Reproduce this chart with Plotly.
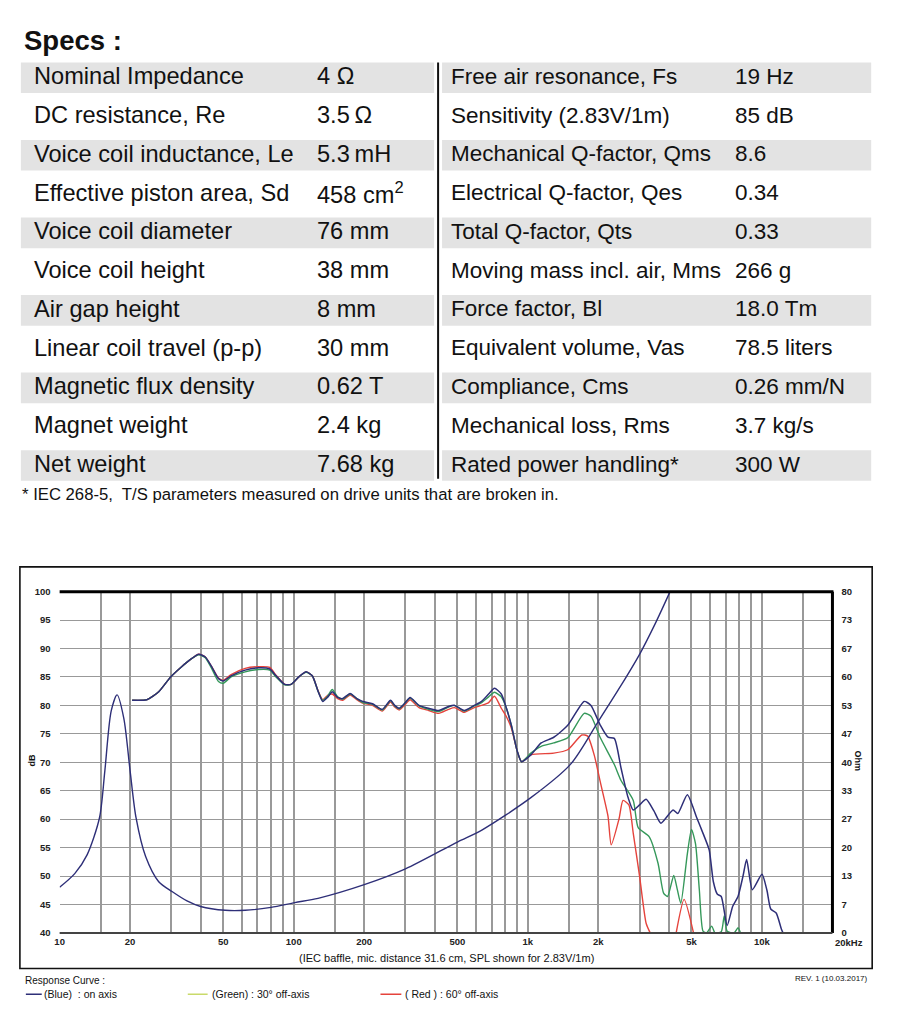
import math
import plotly.graph_objects as go

W, H = 900, 1022
def px(x): return x / W
def py(y): return 1 - y / H

# ---------------- Spec table data ----------------
left_labels = ["Nominal Impedance", "DC resistance, Re", "Voice coil inductance, Le",
               "Effective piston area, Sd", "Voice coil diameter", "Voice coil height",
               "Air gap height", "Linear coil travel (p-p)", "Magnetic flux density",
               "Magnet weight", "Net weight"]
left_values = ["4 Ω", "3.5\u2009Ω", "5.3\u2009mH", "458 cm<sup>2</sup>", "76 mm", "38 mm",
               "8 mm", "30 mm", "0.62 T", "2.4 kg", "7.68 kg"]
right_labels = ["Free air resonance, Fs", "Sensitivity (2.83V/1m)", "Mechanical Q-factor, Qms",
                "Electrical Q-factor, Qes", "Total Q-factor, Qts", "Moving mass incl. air, Mms",
                "Force factor, Bl", "Equivalent volume, Vas", "Compliance, Cms",
                "Mechanical loss, Rms", "Rated power handling*"]
right_values = ["19 Hz", "85 dB", "8.6", "0.34", "0.33", "266 g", "18.0 Tm", "78.5 liters",
                "0.26 mm/N", "3.7 kg/s", "300 W"]

# ---------------- Response curve data ----------------
freq_blue = [20.4, 23.6, 26.5, 29.8, 33.2, 36, 39.3, 41.9, 44.6, 47.7, 50, 54, 62, 70.5, 79, 84,
             91.5, 97.5, 105, 113, 120, 127, 133, 140, 146, 154, 162, 174, 186, 197, 217, 239,
             259, 270, 282, 300, 314, 343, 377, 416, 458, 486, 535, 590, 634, 680, 720, 770,
             810, 850, 900, 940, 1030, 1140, 1290, 1480, 1740, 1860, 2040, 2200, 2340, 2500,
             2680, 2820, 3000, 3200, 3450, 3700, 4170, 4370, 4800, 5260, 5600, 5950, 6200,
             6450, 6700, 7100, 7500, 7900, 8300, 8600, 9100, 10000, 10500, 10900, 11500,
             12100, 12300]
spl_blue = [80.9, 81.0, 82.4, 85.0, 86.8, 88.0, 89.0, 88.5, 86.8, 84.7, 84.3, 85.2, 86.2, 86.6,
            86.4, 85.2, 83.7, 83.7, 85.0, 85.9, 85.2, 82.5, 80.7, 81.5, 82.4, 81.4, 81.2, 82.1,
            81.2, 80.7, 80.3, 79.3, 80.9, 80.0, 79.5, 80.5, 81.4, 80.0, 79.5, 79.1, 79.8, 80.0,
            79.1, 80.0, 80.7, 82.0, 83.0, 82.0, 79.5, 76.5, 72.0, 70.1, 71.3, 73.4, 74.4, 76.5,
            80.7, 80.0, 76.5, 74.4, 74.2, 69.0, 63.8, 61.6, 62.5, 63.5, 61.5, 59.3, 61.6, 61.0,
            64.3, 60.3, 57.5, 54.6, 49.0, 46.8, 46.4, 41.3, 44.7, 46.4, 50.0, 52.9, 47.6, 50.3,
            47.5, 44.2, 43.5, 40.7, 40.0]

freq_green = [20.4, 23.6, 26.5, 29.8, 33.2, 36, 39.3, 41.9, 44.6, 47.7, 50, 54, 62, 70.5, 79, 84,
              91.5, 97.5, 105, 113, 120, 127, 133, 140, 146, 154, 162, 174, 186, 197, 217, 239,
              259, 270, 282, 300, 314, 343, 377, 416, 458, 486, 535, 590, 634, 680, 720, 770,
              810, 850, 900, 940, 1030, 1140, 1290, 1480, 1740, 1860, 2040, 2340, 2500, 2820,
              2960, 3300, 3600, 3800, 3950, 4200, 4350, 4500, 4800, 5000, 5200, 5400, 5600,
              5800, 6100, 6300, 6700, 6900, 7100, 7600, 7900, 8100]
spl_green = [80.9, 81.0, 82.4, 85.0, 86.8, 88.0, 88.9, 88.4, 86.5, 84.2, 83.9, 85.0, 85.9, 86.3,
             86.2, 85.0, 83.6, 83.7, 85.0, 85.8, 85.2, 82.5, 80.9, 81.7, 82.8, 81.5, 81.1, 82.0,
             81.2, 80.5, 80.2, 79.2, 80.8, 79.9, 79.4, 80.5, 81.3, 79.9, 79.3, 78.9, 79.7, 80.0,
             79.0, 79.9, 80.5, 81.5, 82.3, 81.5, 79.5, 76.5, 72.0, 70.1, 71.6, 72.8, 73.4, 74.3,
             78.6, 78.1, 74.3, 69.6, 66.8, 63.3, 58.5, 56.9, 52.2, 47.0, 46.4, 50.1, 47.6, 45.2,
             53.9, 58.2, 55.7, 47.6, 40.3, 40.0, 41.2, 40.0, 40.2, 43.0, 40.3, 40.0, 40.9, 40.0]

freq_red = [20.4, 23.6, 26.5, 29.8, 33.2, 36, 39.3, 41.9, 44.6, 47.7, 50, 54, 62, 70.5, 79, 84,
            91.5, 97.5, 105, 113, 120, 127, 133, 140, 146, 154, 162, 174, 186, 197, 217, 239,
            259, 270, 282, 300, 314, 343, 377, 416, 458, 486, 535, 590, 634, 680, 720, 770,
            810, 850, 900, 940, 1030, 1290, 1480, 1700, 1800, 1920, 2040, 2200, 2270, 2450,
            2550, 2700, 2820, 3000, 3200, 3330, 3800, 4300, 4650, 5100]
spl_red = [80.9, 81.0, 82.4, 85.0, 86.8, 88.0, 89.0, 88.5, 86.8, 84.8, 84.4, 85.4, 86.5, 86.8,
           86.7, 85.3, 83.7, 83.7, 85.0, 85.9, 85.2, 82.6, 81.0, 81.8, 82.0, 81.2, 80.9, 81.8,
           81.0, 80.4, 80.0, 79.0, 80.6, 79.7, 79.2, 80.2, 81.0, 79.6, 79.1, 78.6, 79.3, 79.6,
           78.8, 79.6, 80.0, 80.5, 81.6, 79.5, 78.0, 76.0, 72.0, 70.1, 71.3, 71.6, 72.2, 74.8,
           74.6, 71.3, 66.5, 60.5, 55.5, 60.0, 63.3, 62.5, 57.5, 50.0, 41.7, 40.0, None, 40.0,
           45.9, 40.0]

imp_freq = [10, 11.6, 13.1, 14.8, 15.6, 16.6, 17.6, 18.8, 20, 21.2, 23.3, 26.5, 30.2, 35, 40,
            51, 62, 80, 101, 127, 200, 300, 500, 636, 1030, 1520, 2000, 2500, 3000, 3500, 4050]
imp_ohm = [10.7, 13.9, 18.3, 27, 38, 52, 55.8, 50.3, 38, 27, 17.9, 12, 9.7, 7.5, 6.2, 5.3, 5.3,
           6.0, 7.1, 8.1, 11.3, 15.0, 21.3, 24.1, 31.7, 39.5, 49.6, 58, 65.3, 72.5, 80]

grid_freqs = [10, 15, 20, 30, 40, 50, 60, 70, 80, 90, 100, 150, 200, 300, 400, 500, 600, 700,
              800, 900, 1000, 1500, 2000, 3000, 4000, 5000, 6000, 7000, 8000, 9000, 10000,
              15000, 20000]
freq_tick_labels = {10: "10", 20: "20", 50: "50", 100: "100", 200: "200", 500: "500",
                    1000: "1k", 2000: "2k", 5000: "5k", 10000: "10k"}
db_ticks = [40, 45, 50, 55, 60, 65, 70, 75, 80, 85, 90, 95, 100]
ohm_tick_labels = ["0", "7", "13", "20", "27", "33", "40", "47", "53", "60", "67", "73", "80"]

BLUE = "#2e2f78"
GREEN = "#35985a"
RED = "#e5433c"
FONT = "Liberation Sans, Arial, sans-serif"

fig = go.Figure()
fig.add_trace(go.Scatter(x=imp_freq, y=imp_ohm, yaxis="y2", mode="lines",
                         line=dict(color=BLUE, width=1.4, shape="spline", smoothing=0.8)))
fig.add_trace(go.Scatter(x=freq_red, y=spl_red, mode="lines",
                         line=dict(color=RED, width=1.4, shape="spline", smoothing=0.6)))
fig.add_trace(go.Scatter(x=freq_green, y=spl_green, mode="lines",
                         line=dict(color=GREEN, width=1.4, shape="spline", smoothing=0.6)))
fig.add_trace(go.Scatter(x=freq_blue, y=spl_blue, mode="lines",
                         line=dict(color=BLUE, width=1.5, shape="spline", smoothing=0.6)))

GRID = "#999999"
TICKFONT = dict(size=9.5, weight="bold", color="#222", family=FONT)
x0p, x1p, y0p, y1p = 55, 833, 592, 937
fig.update_layout(
    width=W, height=H, margin=dict(l=0, r=0, t=0, b=0),
    paper_bgcolor="white", plot_bgcolor="white", showlegend=False,
    font=dict(family=FONT, color="#111"),
    xaxis=dict(type="log", range=[1, math.log10(20000)], domain=[px(x0p), px(x1p)],
               tickmode="array", tickvals=grid_freqs,
               ticktext=[freq_tick_labels.get(f, " ") for f in grid_freqs],
               showgrid=True, gridcolor=GRID, gridwidth=1.5, ticks="", zeroline=False,
               tickfont=TICKFONT, showline=False, ticklabelstandoff=2, tickangle=0),
    yaxis=dict(range=[40, 100], domain=[py(y1p), py(y0p)], tickmode="array",
               tickvals=db_ticks, showgrid=True, gridcolor=GRID, gridwidth=1.4,
               ticks="", zeroline=False, tickfont=TICKFONT, showline=False,
               ticklabelstandoff=8),
    yaxis2=dict(range=[0, 80], overlaying="y", side="right", anchor="x",
                tickmode="array", tickvals=[i * 80 / 12 for i in range(13)],
                ticktext=ohm_tick_labels, showgrid=False, zeroline=False, ticks="",
                tickfont=TICKFONT, ticklabelstandoff=8),
)

shapes = []
# table bands
for i in range(len(left_labels)):
    if i % 2 == 0:
        top = 57 + 39.2 * i
        for (a, b) in [(16, 432), (440, 872)]:
            shapes.append(dict(type="rect", xref="paper", yref="paper", x0=px(a), x1=px(b),
                               y0=py(top + 31), y1=py(top), fillcolor="#e3e3e3",
                               line=dict(width=0), layer="below"))
shapes.append(dict(type="line", xref="paper", yref="paper", x0=px(436), x1=px(436),
                   y0=py(57), y1=py(478), line=dict(color="#111", width=2)))
# chart frame
shapes.append(dict(type="rect", xref="paper", yref="paper", x0=px(15), x1=px(873),
                   y0=py(973), y1=py(567), line=dict(color="#111", width=1.6)))
shapes.append(dict(type="line", xref="paper", yref="paper", x0=px(x0p), x1=px(x1p + 1),
                   y0=py(y0p), y1=py(y0p), line=dict(color="#000", width=3), layer="above"))
shapes.append(dict(type="line", xref="paper", yref="paper", x0=px(x1p), x1=px(x1p),
                   y0=py(y0p), y1=py(y1p), line=dict(color="#000", width=3), layer="above"))
shapes.append(dict(type="line", xref="paper", yref="paper", x0=px(x0p), x1=px(x1p),
                   y0=py(y1p), y1=py(y1p), line=dict(color="#444", width=2), layer="above"))
# legend lines
for (a, b, c) in [(21, 37, BLUE), (184, 204, "#c9da6a"), (378, 399, RED)]:
    shapes.append(dict(type="line", xref="paper", yref="paper", x0=px(a), x1=px(b),
                       y0=py(999), y1=py(999), line=dict(color=c, width=1.5)))
fig.update_layout(shapes=shapes)

ann = []
def text(x, y, s, size, xanchor="left", bold=False, angle=0, color="#111", yanchor="middle"):
    ann.append(dict(x=px(x), y=py(y), xref="paper", yref="paper", text=s, showarrow=False,
                    xanchor=xanchor, yanchor=yanchor, textangle=angle,
                    font=dict(size=size, family=FONT, color=color,
                              weight="bold" if bold else "normal")))

text(17, 35, "Specs :", 27.5, bold=True)
for i in range(len(left_labels)):
    yc = 71 + 39.2 * i
    text(27, yc, left_labels[i], 23.6)
    text(312, yc, left_values[i], 23.6)
    text(447, yc, right_labels[i], 22.5)
    text(733, yc, right_values[i], 22.5)
text(15, 494, "* IEC 268-5,  T/S parameters measured on drive units that are broken in.", 16.7)

text(27, 763, "dB", 9, xanchor="center", bold=True, angle=-90)
text(859, 763, "Ohm", 9, xanchor="center", bold=True, angle=90)
text(834, 947, "20kHz", 9.5, bold=True, color="#222")
text(444, 962, "(IEC baffle, mic. distance 31.6 cm, SPL shown for 2.83V/1m)", 11, xanchor="center")
text(18, 985, "Response Curve :", 10)
text(871, 983, "REV. 1 (10.03.2017)", 8, xanchor="right")
text(37, 999, "(Blue)  : on axis", 10.5)
text(206, 999, "(Green) : 30° off-axis", 10.5)
text(401, 999, "( Red ) : 60° off-axis", 10.5)
fig.update_layout(annotations=ann)

fig.write_html("out.html", config={"displayModeBar": False},
               post_script="document.body.style.margin='0px';document.body.style.overflow='hidden';")
